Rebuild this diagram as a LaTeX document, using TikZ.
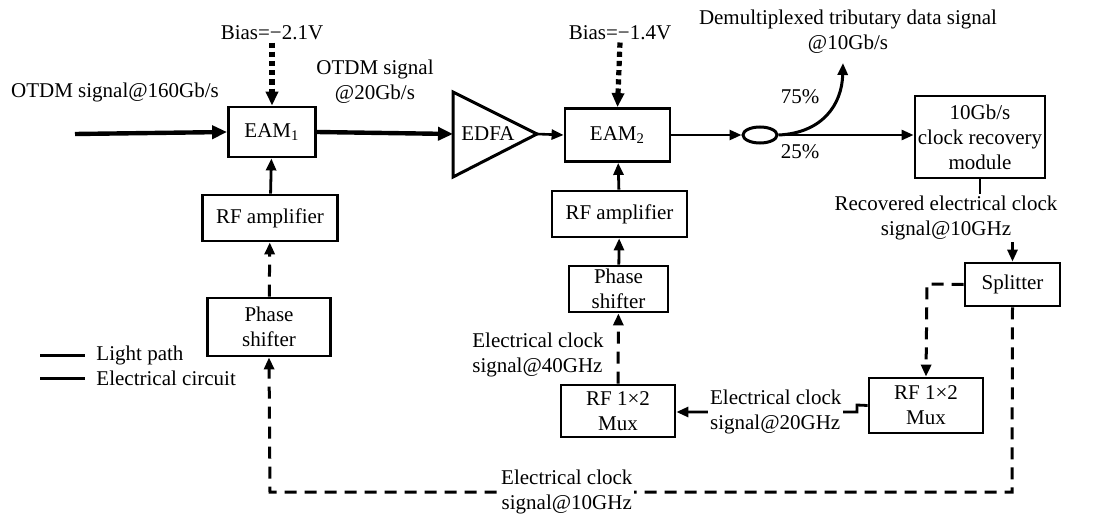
\documentclass[tikz,border=0pt]{standalone}
\usepackage{fontspec}
\setmainfont{Liberation Serif}
\usetikzlibrary{arrows.meta, shapes.geometric}

\begin{document}
\begin{tikzpicture}[
    x=0.5pt, y=-0.5pt,
    font=\fontsize{10.5pt}{12.5pt}\selectfont,
    >={Triangle[length=6pt, width=5pt]},
    blk/.style={draw, line width=1.4pt, align=center, inner sep=1pt},
    lab/.style={align=center, inner sep=1pt},
    light/.style={->, line width=2.2pt, >={Triangle[length=7.5pt, width=6.5pt]}},
    lightthin/.style={->, line width=1.3pt},
    elec/.style={->, line width=1.4pt},
    elecd/.style={->, line width=1.5pt, dash pattern=on 6pt off 4pt},
    biasln/.style={->, line width=2.6pt, dash pattern=on 2.6pt off 2pt, >={Triangle[length=7pt, width=6pt]}},
  ]
  \useasboundingbox (0,0) rectangle (1110,514);
  % ---- optical row
  \coordinate (src) at (75,134);
  \node[blk, minimum width=43.5pt, minimum height=25pt] (eam1) at (272,132) {EAM\textsubscript{1}};
  \draw[line width=1.5pt, line join=miter] (453,92) -- (537,134) coordinate (edfaout) -- (453,177) -- cycle;
  \coordinate (edfain) at (453,134);
  \node (edfa) at (488,134) {EDFA};
  \node[blk, minimum width=52.5pt, minimum height=26.5pt] (eam2) at (617.5,135) {EAM\textsubscript{2}};
  \node[draw, ellipse, line width=1.5pt, minimum width=17pt, minimum height=8pt, inner sep=0pt] (cpl) at (760,135) {};
  \node[blk, minimum width=65pt, minimum height=41pt] (cr) at (980,137) {10Gb/s\\clock recovery\\module};
  \coordinate (drop) at (843,63);
  % ---- electrical chain
  \node[blk, minimum width=67.5pt, minimum height=23pt] (amp1) at (270,218) {RF amplifier};
  \node[blk, minimum width=61.5pt, minimum height=29pt] (ph1) at (269,327) {Phase\\shifter};
  \node[blk, minimum width=67.5pt, minimum height=23pt] (amp2) at (619.5,214) {RF amplifier};
  \node[blk, minimum width=49.5pt, minimum height=23pt] (ph2) at (618.5,289) {Phase\\shifter};
  \node[blk, minimum width=57pt, minimum height=26pt] (mux1) at (618,411) {RF 1×2\\Mux};
  \node[blk, minimum width=57pt, minimum height=27.5pt] (mux2) at (926,405.5) {RF 1×2\\Mux};
  \node[blk, minimum width=47.5pt, minimum height=21.5pt] (split) at (1012.5,284.5) {Splitter};
  % ---- labels
  \node[lab] (inlbl) at (115,92) {OTDM signal@160Gb/s};
  \node[lab] (bias1) at (272,33) {Bias=−2.1V};
  \node[lab] (bias2) at (620,33) {Bias=−1.4V};
  \node[lab] (midlbl) at (375,82) {OTDM signal\\@20Gb/s};
  \node[lab] (droplbl) at (848,32) {Demultiplexed tributary data signal\\@10Gb/s};
  \node[lab] (p75) at (800,97) {75\%};
  \node[lab] (p25) at (800,152) {25\%};
  \node[lab, anchor=west, align=left] (c40) at (470,355) {Electrical clock\\signal@40GHz};
  % ---- optical paths
  \draw[light] (src) -- (eam1.west);
  \draw[light] (eam1.east) -- (edfain);
  \draw[lightthin] (edfaout) -- (eam2.west);
  \draw[lightthin] (eam2.east) -- (cpl.west);
  \draw[lightthin] (cpl.east) -- (cpl.east -| cr.west);
  \draw[->, line width=1.5pt] (cpl.east) .. controls (822,133) and (842,105) .. (drop);
  \draw[biasln] (bias1.south) -- (eam1.north);
  \draw[biasln] (bias2.south) -- (eam2.north);
  % ---- electrical paths
  \draw[elec] (amp1) -- (eam1);
  \draw[elecd] (ph1) -- (amp1);
  \draw[elec] (amp2) -- (eam2);
  \draw[elec] (ph2) -- (amp2);
  \draw[elecd] (mux1) -- (ph2);
  \draw[elec] (cr.south) -- (980,218) -| (split.north);
  \node[lab, fill=white] (reclbl) at (946,218) {Recovered electrical clock\\signal@10GHz};
  \draw[elecd] (split.west) -- (927,284) -- (mux2.north);
  \draw[elec] (mux2.west) -- (857,405) -- (857,412) -- (mux1.east |- 857,412)
    node[pos=0.45, lab, fill=white, align=left] (c20) {Electrical clock\\signal@20GHz};
  \draw[elecd] (split.south) -- (1012,492) -- (270,492)
    node[pos=0.6, lab, fill=white] (c10) {Electrical clock\\signal@10GHz} -- (ph1.south);
  % ---- legend
  \draw[line width=1.5pt] (40,355) coordinate (lg1) -- (85,355) node[lab, anchor=west, xshift=4pt] (lgl) {Light path};
  \draw[line width=1.5pt] (40,378) coordinate (lg2) -- (85,378) node[lab, anchor=west, xshift=4pt] (lge) {Electrical circuit};
\end{tikzpicture}
\end{document}
